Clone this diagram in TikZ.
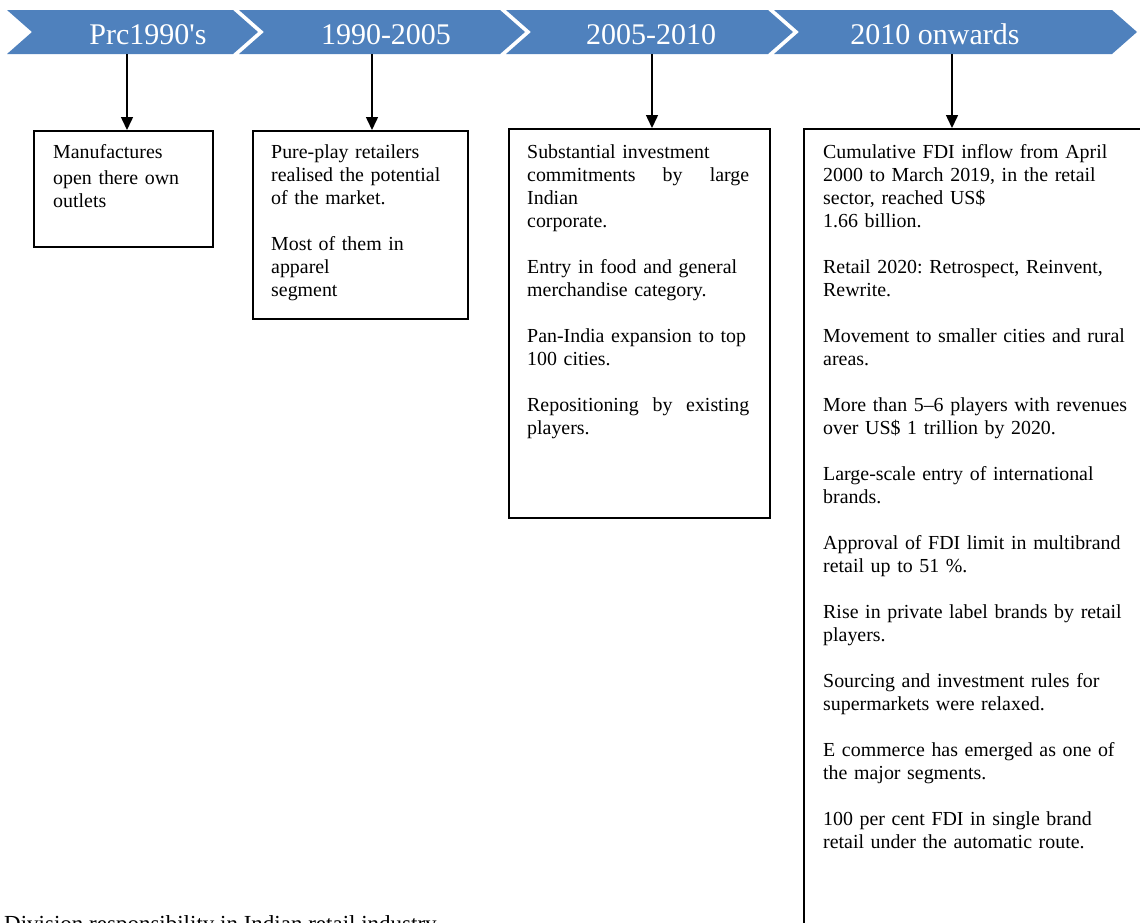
\documentclass[tikz,border=0pt]{standalone}
\usepackage{fontspec}
\setmainfont{Liberation Serif}
\newfontfamily\headfont{Liberation Serif}[Ligatures=TeXOff]
\usetikzlibrary{arrows.meta}
\definecolor{bandblue}{HTML}{4F81BD}
\frenchspacing

\begin{document}
\begin{tikzpicture}[x=1pt,y=-1pt,>={Triangle[width=12pt,length=13pt]},
    band/.style={fill=bandblue,draw=none},
    phase/.style={anchor=base,text=white,inner sep=0pt,font=\headfont\fontsize{30}{34}\selectfont},
    pointer/.style={->,line width=1.5pt},
    panel/.style={draw,line width=1.6pt,anchor=north west,inner sep=0pt},
    blurb/.style={anchor=north west,inner sep=0pt,align=left,font=\fontsize{19.9}{23}\selectfont}]
    \path[use as bounding box,clip] (0,0) rectangle (1140,922);

    % timeline band
    \fill[band] (7,10) -- (233,10) -- (258,32) -- (233,54) -- (7,54) -- (32,32) -- cycle;
    \fill[band] (239,10) -- (500,10) -- (525,32) -- (500,54) -- (239,54) -- (264,32) -- cycle;
    \fill[band] (506,10) -- (768,10) -- (793,32) -- (768,54) -- (506,54) -- (531,32) -- cycle;
    \fill[band] (774,10) -- (1112,10) -- (1137,32) -- (1112,54) -- (774,54) -- (799,32) -- cycle;
    \node[phase] (p1) at (148,44) {Prc1990's};
    \node[phase] (p2) at (386,44) {1990-2005};
    \node[phase] (p3) at (651,44) {2005-2010};
    \node[phase] (p4) at (935,44) {2010 onwards};

    % boxes
    \node[panel,minimum width=179pt,minimum height=116pt] (b1) at (33,130) {};
    \node[panel,minimum width=215pt,minimum height=188pt] (b2) at (252,130) {};
    \node[panel,minimum width=261pt,minimum height=389pt] (b3) at (508,128) {};
    \node[panel,minimum width=360pt,minimum height=830pt] (b4) at (803,128) {};

    \coordinate (a1) at (127,54);
    \coordinate (a2) at (372,54);
    \coordinate (a3) at (652,54);
    \coordinate (a4) at (952,54);
    \draw[pointer] (a1) -- (a1 |- b1.north);
    \draw[pointer] (a2) -- (a2 |- b2.north);
    \draw[pointer] (a3) -- (a3 |- b3.north);
    \draw[pointer] (a4) -- (a4 |- b4.north);

    \node[blurb,text width=170pt] (t1) at (53,139.5) {\fontsize{19.9}{26.5}\selectfont\strut
      Manufactures\\ open there own\\ outlets};
    \node[blurb,text width=200pt] (t2) at (271,141.9) {\strut
      Pure-play retailers\\ realised the potential\\ of the market.\\[23pt]
      Most of them in\\ apparel\\ segment};
    \node[blurb,text width=222pt] (t3) at (527,141.9) {\strut
      Substantial investment\\
      commitments\hfill by\hfill large\\
      Indian\\
      corporate.\\[23pt]
      Entry in food and general\\
      merchandise category.\\[23pt]
      Pan-India expansion to top\\
      100 cities.\\[23pt]
      Repositioning\hfill by\hfill existing\\
      players.};
    \node[blurb,text width=310pt] (t4) at (823,141.9) {\strut
      Cumulative FDI inflow from April\\
      2000 to March 2019, in the retail\\
      sector, reached US\$\\
      1.66 billion.\\[23pt]
      Retail 2020: Retrospect, Reinvent,\\
      Rewrite.\\[23pt]
      Movement to smaller cities and rural\\
      areas.\\[23pt]
      More than 5–6 players with revenues\\
      over US\$ 1 trillion by 2020.\\[23pt]
      Large-scale entry of international\\
      brands.\\[23pt]
      Approval of FDI limit in multibrand\\
      retail up to 51~\%.\\[23pt]
      Rise in private label brands by retail\\
      players.\\[23pt]
      Sourcing and investment rules for\\
      supermarkets were relaxed.\\[23pt]
      E commerce has emerged as one of\\
      the major segments.\\[23pt]
      100 per cent FDI in single brand\\
      retail under the automatic route.};

    % caption, cut by the page edge
    \node[anchor=base west,inner sep=0pt,font=\fontsize{23}{27}\selectfont] (cap) at (4,931)
      {Division responsibility in Indian retail industry};
\end{tikzpicture}
\end{document}
